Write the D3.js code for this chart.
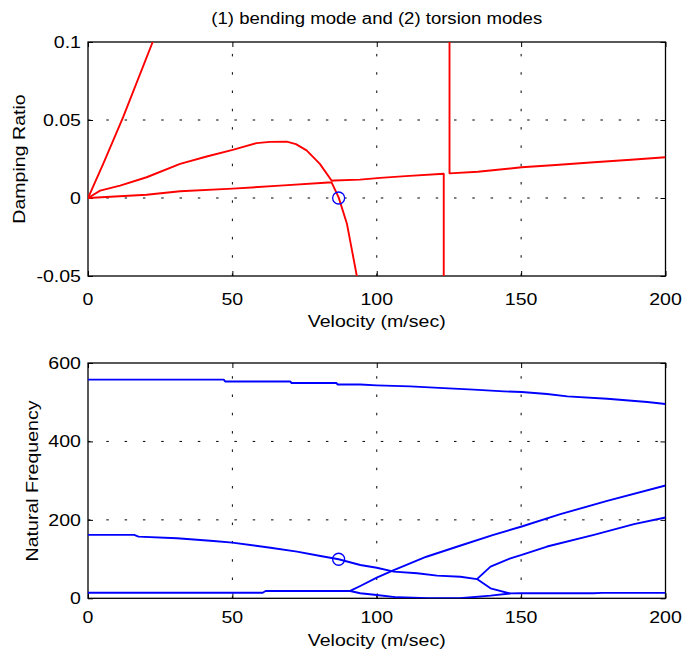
<!DOCTYPE html>
<html><head><meta charset="utf-8">
<script src="https://cdn.jsdelivr.net/npm/d3@7"></script>
<style>body{margin:0;background:#fff}svg{display:block}text{font-family:"Liberation Sans",Arial,sans-serif;fill:#000}</style>
</head><body><svg id="c" width="683" height="658"></svg>
<script>
// ---------- data ----------
const title = "(1) bending mode and (2) torsion modes";
const xTicks = [0, 50, 100, 150, 200];
const dampTicks = [-0.05, 0, 0.05, 0.1];
const dampTickLabels = ["-0.05", "0", "0.05", "0.1"];
const freqTicks = [0, 200, 400, 600];
const freqTickLabels = ["0", "200", "400", "600"];

// damping ratio curves (velocity, damping)
const dampV1 = [0, 5.3, 12.2, 22.4, 26];
const dampD1 = [0, 0.022, 0.052, 0.1, 0.118];

const dampV2 = [0, 4.2, 11.1, 20.3, 31.9, 41.1, 50.1, 58.4, 63, 68.8, 72, 75.7, 80.3, 84.4, 85.2, 94.2, 101.2, 110, 123.2, 123.2];
const dampD2 = [0, 0.0047, 0.0079, 0.0133, 0.0219, 0.0266, 0.0309, 0.0352, 0.036, 0.0361, 0.0345, 0.0305, 0.0219, 0.0111, 0.0112, 0.0118, 0.0129, 0.014, 0.0155, -0.06];

const dampV3 = [0, 20.3, 31.9, 50.1, 66.5, 83.3, 84.4, 86.8, 89.7, 93.2, 94];
const dampD3 = [0, 0.0021, 0.0043, 0.006, 0.0079, 0.0099, 0.0099, 0.0004, -0.0167, -0.051, -0.056];

const dampV4 = [125.2, 125.2, 135, 150.2, 162, 175.2, 188, 200];
const dampD4 = [0.11, 0.0158, 0.0168, 0.0197, 0.0212, 0.0229, 0.0245, 0.0261];

// natural frequency curves (velocity, frequency)
const freqV1 = [0, 47, 47.5, 70, 70.5, 86, 86.5, 94.3, 100, 111.6, 123.2, 133.6, 144, 150.2, 159, 166, 179.8, 193.7, 200];
const freqF1 = [557.5, 557.5, 553, 553, 549, 549, 545, 545, 543, 540.5, 536, 532, 527.7, 526, 521, 515, 509, 500.6, 495.5];

const freqV2 = [0, 16, 17.5, 30.8, 43.5, 50, 63.2, 72.4, 80.5, 86.8, 94.3, 100, 105.9, 114, 120.9, 129, 134.7, 139.4, 146.3, 150.2, 159, 175.2, 189.1, 200];
const freqF2 = [161.7, 161.7, 157.3, 153, 146, 142, 129, 119, 108, 99.6, 85, 78, 68, 64, 57.7, 55, 49, 80.7, 102, 110.6, 132, 161.7, 189, 206];

const freqV3 = [0, 60.5, 61.5, 90.8, 94.3, 100, 105.9, 117.2, 128.8, 140.4, 150.2, 163.6, 179.8, 200];
const freqF3 = [14.3, 14.3, 18.7, 18.7, 31.4, 52.7, 72, 106, 134, 161.7, 183, 214.5, 248.5, 287.6];

const freqV4 = [90.8, 94.3, 100, 107.1, 118, 128.8, 139.4, 146.3, 150, 175, 178, 200];
const freqF4 = [18.7, 12.8, 8.4, 2.5, 0.5, 0, 6.7, 12.5, 12.8, 12.8, 13.8, 13.8];

const freqV5 = [134.7, 139.4, 146.3];
const freqF5 = [49, 25.5, 11.8];

const markV = 86.8, markD = 0, markF = 99.6;

// ---------- drawing ----------
const svg = d3.select("#c");
const L = 88, R = 665.5;
const FS = 16.3, SX = 1.2;
const x = d3.scaleLinear().domain([0, 200]).range([L, R]);
const yD = d3.scaleLinear().domain([-0.05, 0.1]).range([276, 42]);
const yF = d3.scaleLinear().domain([0, 600]).range([598.3, 363]);

function label(px, py, txt, anchor, size, sx, rot) {
  svg.append("text").attr("transform", `translate(${px},${py}) rotate(${rot || 0}) scale(${sx},1)`)
    .attr("text-anchor", anchor).style("font-size", size + "px").text(txt);
}

function panel(y, ticks, labels, id, xLabelY) {
  const g = svg.append("g");
  const [b, t] = y.range();
  g.append("clipPath").attr("id", id).append("rect").attr("x", L).attr("y", t).attr("width", R - L).attr("height", b - t);
  // grid
  xTicks.slice(1, -1).forEach(v => g.append("line").attr("x1", x(v)).attr("x2", x(v)).attr("y1", b).attr("y2", t)
    .attr("stroke", "#000").attr("stroke-width", 1).attr("stroke-dasharray", "2.5,15.8"));
  ticks.slice(1, -1).forEach(v => g.append("line").attr("x1", L).attr("x2", R).attr("y1", y(v)).attr("y2", y(v))
    .attr("stroke", "#000").attr("stroke-width", 1).attr("stroke-dasharray", "2.5,15.8"));
  // axes with inward ticks
  const axs = [
    g.append("g").attr("transform", `translate(0,${b})`).call(d3.axisBottom(x).tickValues(xTicks).tickSize(-5).tickFormat("")),
    g.append("g").attr("transform", `translate(0,${t})`).call(d3.axisTop(x).tickValues(xTicks).tickSize(-5).tickFormat("")),
    g.append("g").attr("transform", `translate(${L},0)`).call(d3.axisLeft(y).tickValues(ticks).tickSize(-5).tickFormat("")),
    g.append("g").attr("transform", `translate(${R},0)`).call(d3.axisRight(y).tickValues(ticks).tickSize(-5).tickFormat(""))
  ];
  axs.forEach(a => { a.select(".domain").remove(); a.selectAll("line").attr("stroke", "#000"); });
  g.append("rect").attr("x", L).attr("y", t).attr("width", R - L).attr("height", b - t)
    .attr("fill", "none").attr("stroke", "#000").attr("stroke-width", 1.3);
  // tick labels
  xTicks.forEach(v => label(x(v), xLabelY, String(v), "middle", FS, SX));
  ticks.forEach((v, i) => label(81, y(v) + 5.8, labels[i], "end", FS, SX));
  return g;
}

const gTop = panel(yD, dampTicks, dampTickLabels, "clipTop", 305);
const gBot = panel(yF, freqTicks, freqTickLabels, "clipBot", 622.5);

function curve(g, clip, xs, ys, y, color) {
  const pts = xs.map((v, i) => [v, ys[i]]);
  g.append("path").datum(pts).attr("clip-path", `url(#${clip})`)
    .attr("d", d3.line().x(d => x(d[0])).y(d => y(d[1])))
    .attr("fill", "none").attr("stroke", color).attr("stroke-width", 1.9).attr("stroke-linejoin", "round");
}
[[dampV1, dampD1], [dampV2, dampD2], [dampV3, dampD3], [dampV4, dampD4]].forEach(([a, b]) => curve(gTop, "clipTop", a, b, yD, "#ff0000"));
[[freqV1, freqF1], [freqV2, freqF2], [freqV3, freqF3], [freqV4, freqF4], [freqV5, freqF5]].forEach(([a, b]) => curve(gBot, "clipBot", a, b, yF, "#0000ff"));

gTop.append("circle").attr("cx", x(markV)).attr("cy", yD(markD)).attr("r", 6).attr("fill", "none").attr("stroke", "#0000ff").attr("stroke-width", 1.3);
gBot.append("circle").attr("cx", x(markV)).attr("cy", yF(markF)).attr("r", 6).attr("fill", "none").attr("stroke", "#0000ff").attr("stroke-width", 1.3);

// labels
const cx = (L + R) / 2;
label(cx, 24, title, "middle", 16, 1.16);
label(cx, 327, "Velocity (m/sec)", "middle", FS, SX);
label(cx, 646, "Velocity (m/sec)", "middle", FS, SX);
label(25, 159, "Damping Ratio", "middle", FS, SX, -90);
label(38, 481, "Natural Frequency", "middle", FS, SX, -90);
</script></body></html>
